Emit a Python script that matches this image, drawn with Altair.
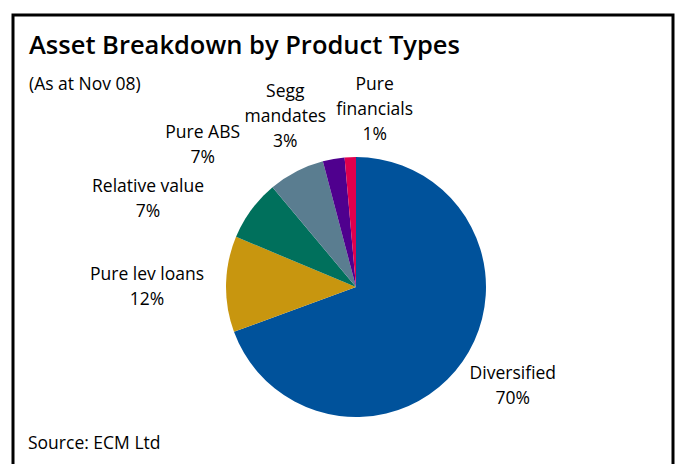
import math
import altair as alt
import pandas as pd

# ---- data ----
categories = ["Diversified", "Pure lev loans", "Relative value", "Pure ABS",
              "Segg mandates", "Pure financials"]
label_names = ["Diversified", "Pure lev loans", "Relative value", "Pure ABS",
               "Segg\nmandates", "Pure\nfinancials"]
values = [69.4, 11.9, 7.6, 7.0, 2.7, 1.4]
pct_labels = ["70%", "12%", "7%", "7%", "3%", "1%"]

title_text = "Asset Breakdown by Product Types"
subtitle_text = "(As at Nov 08)"
source_text = "Source: ECM Ltd"

# ---- styling / layout ----
colors = ["#00529B", "#C8960F", "#00705C", "#5A7D90", "#4F008E", "#E0004D"]
FONT = "Open Sans"
CX, CY, R = 356, 287, 130
LABEL_R = 190
# label nudges (dx, dy) per category, like Excel's collision-avoiding placement
nudges = [(1, -22), (-19, -8), (-55, 13), (-66, 15), (-38, -8), (27, -12)]

total = sum(values)
df = pd.DataFrame({
    "category": categories,
    "value": values,
    "idx": list(range(len(categories))),
    "label": [f"{n}\n{p}" for n, p in zip(label_names, pct_labels)],
})

theta_scale = alt.Scale(domain=[0, total], range=[0, 2 * math.pi])

pie = alt.Chart(df).mark_arc(outerRadius=R).encode(
    theta=alt.Theta("value:Q", stack=True, scale=theta_scale),
    order=alt.Order("idx:Q"),
    color=alt.Color("category:N", scale=alt.Scale(domain=categories, range=colors),
                    legend=None),
    x=alt.value(CX),
    y=alt.value(CY),
)

stacked = alt.Chart(df).transform_stack(
    stack="value", groupby=[], as_=["v0", "v1"],
    sort=[alt.SortField("idx", order="ascending")],
).transform_calculate(mid="(datum.v0 + datum.v1) / 2")

label_layers = []
for i, (dx, dy) in enumerate(nudges):
    label_layers.append(
        stacked.transform_filter(alt.datum.idx == i).mark_text(
            radius=LABEL_R, dx=dx, dy=dy, lineBreak="\n", lineHeight=25,
            font=FONT, fontSize=17.5, color="#000000", align="center",
            baseline="middle",
        ).encode(
            theta=alt.Theta("mid:Q", scale=theta_scale),
            text="label:N",
            x=alt.value(CX),
            y=alt.value(CY),
        )
    )

one = pd.DataFrame({"k": [0]})

border = alt.Chart(one).mark_rect(fill=None, stroke="#000000", strokeWidth=3).encode(
    x=alt.value(13), x2=alt.value(673), y=alt.value(15), y2=alt.value(520)
)

title = alt.Chart(one).mark_text(
    font=FONT, fontSize=25.5, fontWeight=600, align="left", baseline="alphabetic",
    color="#000000",
).encode(x=alt.value(29), y=alt.value(54), text=alt.value(title_text))

subtitle = alt.Chart(one).mark_text(
    font=FONT, fontSize=17.5, align="left", baseline="alphabetic", color="#000000",
).encode(x=alt.value(29), y=alt.value(90), text=alt.value(subtitle_text))

source = alt.Chart(one).mark_text(
    font=FONT, fontSize=17.5, align="left", baseline="alphabetic", color="#000000",
).encode(x=alt.value(28), y=alt.value(449), text=alt.value(source_text))

chart = alt.layer(border, pie, *label_layers, title, subtitle, source).properties(
    width=679, height=464,
    autosize=alt.AutoSizeParams(type="none"),
    padding=0,
    background="#ffffff",
).configure_view(stroke=None)

chart.save("out.html", embed_options={"renderer": "svg", "actions": False})
